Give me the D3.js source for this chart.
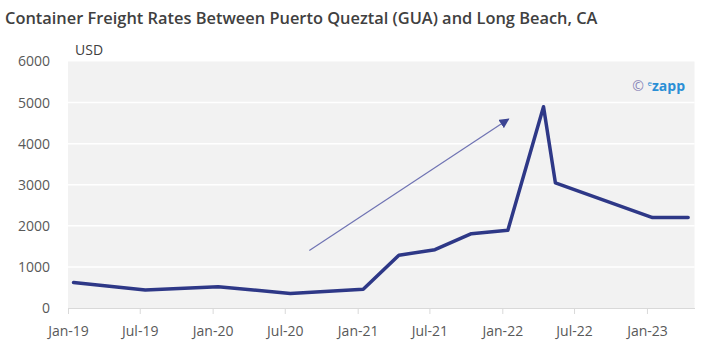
<!DOCTYPE html>
<html>
<head>
<meta charset="utf-8">
<script src="https://cdn.jsdelivr.net/npm/d3@7"></script>
<style>
  body { margin: 0; background: #fff; }
  text { font-family: "Open Sans", sans-serif; }
</style>
</head>
<body>
<div class="chart"></div>
<script>
var dates = ["2019-01-15", "2019-07-15", "2020-01-15", "2020-07-15", "2021-01-15",
  "2021-04-15", "2021-07-15", "2021-10-15", "2022-01-15", "2022-04-15",
  "2022-05-15", "2023-01-15", "2023-04-15"];
var rates = [620, 440, 515, 355, 455, 1285, 1420, 1810, 1890, 4900, 3045, 2200, 2200];
var yTicks = [0, 1000, 2000, 3000, 4000, 5000, 6000];
// trend arrow annotation (date, value)
var arrowDates = ["2020-09-01", "2022-01-17"];
var arrowValues = [1400, 4600];

var svgWidth = 707;
var svgHeight = 353;

var plot = { left: 68, right: 694.5, top: 61.5, bottom: 308 };

var svg = d3.select(".chart")
  .append("svg")
  .attr("width", svgWidth)
  .attr("height", svgHeight);

var parse = d3.utcParse("%Y-%m-%d");
var rows = dates.map((d, i) => ({ date: parse(d), value: rates[i] }));

var x = d3.scaleUtc()
  .domain([parse("2019-01-01"), parse("2023-05-01")])
  .range([plot.left, plot.right]);

var y = d3.scaleLinear()
  .domain([0, 6000])
  .range([plot.bottom, plot.top]);

// grey plot background
svg.append("rect")
  .attr("x", plot.left)
  .attr("y", plot.top)
  .attr("width", plot.right - plot.left)
  .attr("height", plot.bottom - plot.top)
  .attr("fill", "#f2f2f2");

// white gridlines
svg.append("g")
  .selectAll("line")
  .data(yTicks.filter(d => d > 0 && d < 6000))
  .enter()
  .append("line")
  .attr("x1", plot.left)
  .attr("x2", plot.right)
  .attr("y1", d => y(d))
  .attr("y2", d => y(d))
  .attr("stroke", "#ffffff")
  .attr("stroke-width", 1.5);

// y labels
var leftAxis = d3.axisLeft(y)
  .tickValues(yTicks)
  .tickFormat(d3.format("d"))
  .tickSize(0)
  .tickPadding(18);
var yAxis = svg.append("g")
  .attr("transform", `translate(${plot.left}, 0)`)
  .call(leftAxis);
yAxis.select(".domain").remove();
yAxis.selectAll("text")
  .attr("font-family", "'Open Sans', sans-serif")
  .attr("font-size", "14px")
  .attr("fill", "#595959");

// x axis
var bottomAxis = d3.axisBottom(x)
  .ticks(d3.utcMonth.every(6))
  .tickFormat(d3.utcFormat("%b-%y"))
  .tickSize(6)
  .tickSizeOuter(0)
  .tickPadding(12);
var xAxis = svg.append("g")
  .attr("transform", `translate(0, ${plot.bottom})`)
  .call(bottomAxis);
xAxis.select(".domain").attr("stroke", "#d9d9d9");
xAxis.selectAll(".tick line").attr("stroke", "#d9d9d9");
xAxis.selectAll("text")
  .attr("font-family", "'Open Sans', sans-serif")
  .attr("font-size", "14px")
  .attr("fill", "#595959");

// arrow annotation
svg.append("defs").append("marker")
  .attr("id", "head")
  .attr("viewBox", "0 0 10 10")
  .attr("refX", 9)
  .attr("refY", 5)
  .attr("markerWidth", 10)
  .attr("markerHeight", 10)
  .attr("markerUnits", "userSpaceOnUse")
  .attr("orient", "auto")
  .append("path")
  .attr("d", "M0,0 L10,5 L0,10 z")
  .attr("fill", "#3c4593");

svg.append("line")
  .attr("x1", x(parse(arrowDates[0])))
  .attr("y1", y(arrowValues[0]))
  .attr("x2", x(parse(arrowDates[1])))
  .attr("y2", y(arrowValues[1]))
  .attr("stroke", "#6f73b3")
  .attr("stroke-width", 1.2)
  .attr("marker-end", "url(#head)");

// rate line
var line = d3.line()
  .x(d => x(d.date))
  .y(d => y(d.value));

svg.append("path")
  .datum(rows)
  .attr("d", line)
  .attr("fill", "none")
  .attr("stroke", "#2e3887")
  .attr("stroke-width", 3.5)
  .attr("stroke-linejoin", "round")
  .attr("stroke-linecap", "round");

// title
svg.append("text")
  .attr("x", 5)
  .attr("y", 24)
  .attr("font-size", "16.4px")
  .attr("font-weight", 600)
  .attr("fill", "#404040")
  .text("Container Freight Rates Between Puerto Queztal (GUA) and Long Beach, CA");

// unit label
svg.append("text")
  .attr("x", 75)
  .attr("y", 55)
  .attr("font-size", "14px")
  .attr("fill", "#404040")
  .text("USD");

// watermark
var mark = svg.append("text")
  .attr("x", 685)
  .attr("y", 91)
  .attr("text-anchor", "end")
  .attr("font-size", "14px");
mark.append("tspan").attr("fill", "#8a87b8").text("© ");
mark.append("tspan").attr("fill", "#2b8fd6").attr("font-size", "8px").attr("dy", -5).text("e");
mark.append("tspan").attr("fill", "#2b8fd6").attr("font-weight", 700).attr("dy", 5).text("zapp");
</script>
</body>
</html>
